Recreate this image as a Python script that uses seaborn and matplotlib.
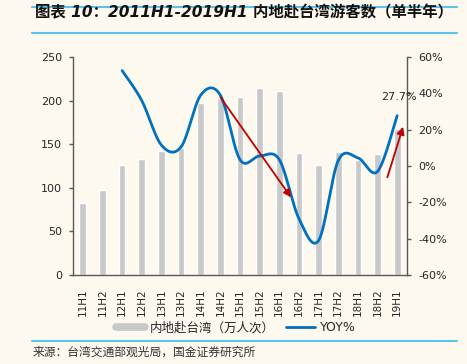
import numpy as np
import pandas as pd
import matplotlib
matplotlib.use("Agg")
import matplotlib.pyplot as plt
import seaborn as sns
from matplotlib.lines import Line2D

# data
periods = ["11H1", "11H2", "12H1", "12H2", "13H1", "13H2", "14H1", "14H2",
           "15H1", "15H2", "16H1", "16H2", "17H1", "17H2", "18H1", "18H2", "19H1"]
visitors = [83, 97, 126.5, 132.5, 142, 146, 197, 203.5,
            204.5, 214, 211.5, 140, 126, 141.5, 132, 138.5, 168]
# YOY% starts at 12H1
yoy_periods = periods[2:]
yoy = [52.5, 36, 11.5, 10.5, 39, 39, 3.5, 5.5, 3.5, -29, -41, 3, 4.5, -3, 27.7]

bg = "#FDF9EF"
bar_color = "#C8C8C8"
line_color = "#0070C0"
arrow_color = "#C00000"
rule_color = "#5BC2EC"
text_color = "#262626"

sns.set_style("white")
plt.rcParams["font.family"] = ["DejaVu Sans", "Noto Sans CJK SC"]
plt.rcParams["axes.unicode_minus"] = False


def catmull_rom(xs, ys, n=40):
    # smoothed line like the spreadsheet "smooth line" option
    pts = np.column_stack([xs, ys]).astype(float)
    out = []
    for i in range(len(pts) - 1):
        p0 = pts[i - 1] if i > 0 else pts[i]
        p1, p2 = pts[i], pts[i + 1]
        p3 = pts[i + 2] if i + 2 < len(pts) else pts[i + 1]
        t = np.linspace(0, 1, n)[:, None]
        seg = 0.5 * (2 * p1 + (-p0 + p2) * t + (2 * p0 - 5 * p1 + 4 * p2 - p3) * t ** 2
                     + (-p0 + 3 * p1 - 3 * p2 + p3) * t ** 3)
        out.append(seg if i == 0 else seg[1:])
    return np.vstack(out)


df_bar = pd.DataFrame({"period": periods, "visitors": visitors})
x_yoy = [periods.index(p) for p in yoy_periods]
curve = catmull_rom(x_yoy, yoy)
df_line = pd.DataFrame({"x": curve[:, 0], "yoy": curve[:, 1]})

fig = plt.figure(figsize=(4.67, 3.64), dpi=100, facecolor=bg)
ax = fig.add_axes([73 / 467, 89 / 364, 334 / 467, 218 / 364])
ax.set_facecolor(bg)

sns.barplot(data=df_bar, x="period", y="visitors", color=bar_color,
            width=0.34, saturation=1, ax=ax)
ax.set_xlim(-0.5, len(periods) - 0.5)
ax.set_ylim(0, 250)
ax.set_yticks(range(0, 251, 50))
ax.set_xlabel("")
ax.set_ylabel("")

ax2 = ax.twinx()
sns.lineplot(data=df_line, x="x", y="yoy", sort=False, color=line_color,
             linewidth=2.0, ax=ax2)
ax2.set_ylim(-60, 60)
ax2.set_yticks(range(-60, 61, 20))
ax2.set_yticklabels([f"{v}%" for v in range(-60, 61, 20)])
ax2.set_xlabel("")
ax2.set_ylabel("")

ax2.annotate(f"{yoy[-1]}%", xy=(x_yoy[-1], yoy[-1]), xytext=(2, 19),
             textcoords="offset pixels", ha="center", va="center",
             fontsize=8, color=text_color)

# trend arrows (left-axis coordinates)
arrow_down = ((7.0, 204), (10.6, 89))
arrow_up = ((15.5, 112), (16.3, 170))
for start, tip in (arrow_down, arrow_up):
    ax2.annotate("", xy=tip, xytext=start, xycoords=ax.transData,
                 textcoords=ax.transData,
                 arrowprops=dict(arrowstyle="-|>", color=arrow_color, lw=1.3,
                                 mutation_scale=11, shrinkA=0, shrinkB=0))

for a in (ax, ax2):
    for s in a.spines.values():
        s.set_visible(False)
    a.tick_params(colors=text_color, labelsize=8)
ax.spines["left"].set_visible(True)
ax.spines["bottom"].set_visible(True)
ax2.spines["right"].set_visible(True)
for s in (ax.spines["left"], ax.spines["bottom"], ax2.spines["right"]):
    s.set_color("#595959")
    s.set_linewidth(1.0)
ax.tick_params(axis="y", left=True, length=3, width=1, color="#595959", pad=5)
ax.tick_params(axis="x", bottom=False, pad=6, labelsize=7.5)
ax2.tick_params(axis="y", right=True, length=3, width=1, color="#595959", pad=5)
plt.setp(ax.get_xticklabels(), rotation=90)

handles = [Line2D([], [], color=bar_color, lw=5.5),
           Line2D([], [], color=line_color, lw=2)]
fig.legend(handles, ["内地赴台湾（万人次）", "YOY%"], loc="center",
           bbox_to_anchor=(0.505, 0.1), ncol=2, frameon=False, fontsize=9,
           handlelength=2.3, handletextpad=0.4, columnspacing=0.9,
           labelcolor=text_color)

# header / footer
for y in (357 / 364, 331 / 364, 23 / 364):
    fig.add_artist(Line2D([32 / 467, 457 / 467], [y, y], color=rule_color, lw=1.5))
fig.text(35 / 467, 0.964, "图表 10：2011H1-2019H1 内地赴台湾游客数（单半年）",
         fontsize=11.1, fontweight="bold", fontstyle="italic", color="#111111",
         va="center", ha="left")
fig.text(33 / 467, 12 / 364, "来源：台湾交通部观光局，国金证券研究所",
         fontsize=8.5, color="#333333", va="center", ha="left")

fig.savefig("out.png", dpi=100, facecolor=bg)
